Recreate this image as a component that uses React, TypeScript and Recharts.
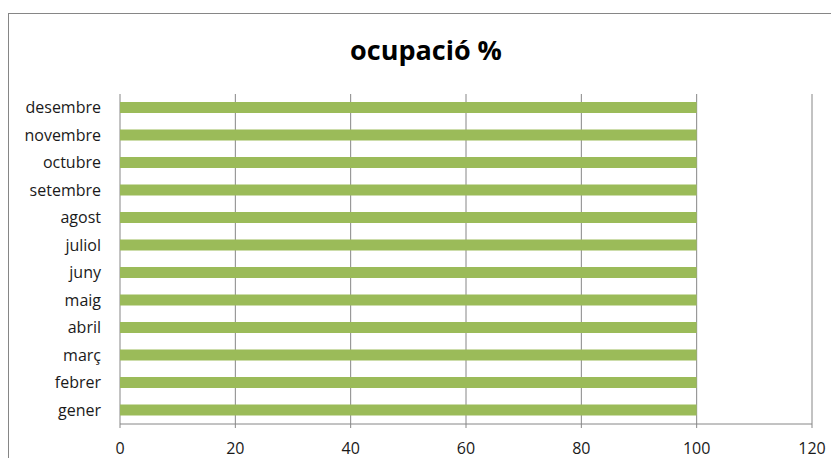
import { Bar, BarChart, CartesianGrid, XAxis, YAxis } from 'recharts';

const months = [
  'gener',
  'febrer',
  'març',
  'abril',
  'maig',
  'juny',
  'juliol',
  'agost',
  'setembre',
  'octubre',
  'novembre',
  'desembre',
];
const occupancy = [100, 100, 100, 100, 100, 100, 100, 100, 100, 100, 100, 100];
const xTicks = [0, 20, 40, 60, 80, 100, 120];
// band boundaries for the Excel-style tick marks between categories
const bandEdges = [0, 1, 2, 3, 4, 5, 6, 7, 8, 9, 10, 11, 12];

const data = months.map((month, i) => ({ month, value: occupancy[i] }));

const AXIS = '#868686';
const FONT = '"Open Sans", sans-serif';

export default function App() {
  return (
    <div style={{ position: 'relative', width: 830, height: 450, overflow: 'hidden', fontFamily: FONT }}>
      <div
        style={{
          position: 'absolute',
          left: 0,
          top: 5,
          width: 900,
          height: 500,
          border: `1px solid ${AXIS}`,
        }}
      />
      <div
        style={{
          position: 'absolute',
          left: 0,
          top: 28,
          width: 836,
          textAlign: 'center',
          fontSize: 27,
          lineHeight: '27px',
          fontWeight: 700,
          color: '#000',
        }}
      >
        ocupació %
      </div>
      <div style={{ position: 'absolute', left: 0, top: 0 }}>
        <BarChart
          width={830}
          height={450}
          data={data}
          layout="vertical"
          margin={{ top: 86, right: 26, left: 0, bottom: 0 }}
        >
          <CartesianGrid horizontal={false} stroke={AXIS} strokeWidth={1} />
          <XAxis
            type="number"
            domain={[0, 120]}
            ticks={xTicks}
            interval={0}
            height={34}
            axisLine={{ stroke: AXIS }}
            tickLine={{ stroke: AXIS }}
            tickSize={4}
            tickMargin={15}
            tick={{ fill: '#1a1a1a', fontSize: 16, fontFamily: FONT }}
          />
          <YAxis
            yAxisId="edge"
            type="number"
            domain={[0, 12]}
            ticks={bandEdges}
            interval={0}
            width={0}
            tick={false}
            axisLine={{ stroke: AXIS }}
            tickLine={{ stroke: AXIS }}
            tickSize={4}
            allowDataOverflow
          />
          <YAxis
            yAxisId="cat"
            type="category"
            dataKey="month"
            reversed
            width={112}
            axisLine={false}
            tickLine={false}
            tickSize={4}
            tickMargin={15}
            interval={0}
            tick={{ fill: '#1a1a1a', fontSize: 16, fontFamily: FONT }}
          />
          <Bar
            yAxisId="cat"
            dataKey="value"
            fill="#9BBB59"
            barSize={11}
            isAnimationActive={false}
          />
        </BarChart>
      </div>
    </div>
  );
}
